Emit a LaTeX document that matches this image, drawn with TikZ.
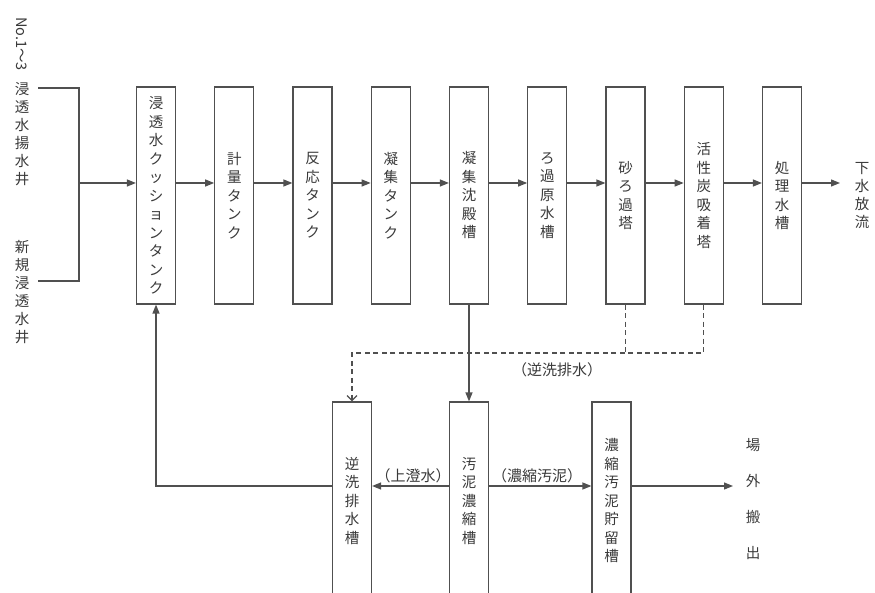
\documentclass[tikz,border=0pt]{standalone}
\usepackage{fontspec}
\setmainfont{Noto Sans CJK JP}
\usetikzlibrary{arrows.meta,calc}
\definecolor{ln}{HTML}{505050}
\definecolor{txt}{HTML}{3A3A3A}
\begin{document}
\begin{tikzpicture}[x=1pt,y=-1pt,
  tbox/.style={draw=ln, line width=1.2pt, minimum width=39pt, minimum height=217pt, inner sep=0pt,
    align=center, font=\fontsize{14.5}{18.5}\selectfont, text=txt},
  bbox/.style={draw=ln, line width=1.2pt, minimum width=39pt, minimum height=198pt, inner sep=0pt,
    align=center, font=\fontsize{14.5}{18.5}\selectfont, text=txt},
  vlab/.style={align=center, inner sep=0pt, font=\fontsize{14.5}{18}\selectfont, text=txt},
  hlab/.style={inner sep=1pt, font=\fontsize{15}{17}\selectfont, text=txt},
  flow/.style={draw=ln, line width=1.2pt, -{Triangle[length=9pt,width=7pt]}},
  pipe/.style={draw=ln, line width=1.2pt},
  dpipe/.style={draw=ln, line width=1.2pt, dash pattern=on 5pt off 3.5pt},
  darrow/.style={dpipe, -{Straight Barb[length=5pt,width=10pt,line width=1.2pt]}}
]
\clip (0,0) rectangle (875,593);
\fill[white] (0,0) rectangle (875,593);
% top row
\node[tbox] (b1) at (156,195.5) {浸\\透\\水\\ク\\ッ\\シ\\ョ\\ン\\タ\\ン\\ク};
\node[tbox] (b2) at (234.25,195.5) {計\\量\\タ\\ン\\ク};
\node[tbox] (b3) at (312.5,195.5) {反\\応\\タ\\ン\\ク};
\node[tbox] (b4) at (390.75,195.5) {凝\\集\\タ\\ン\\ク};
\node[tbox] (b5) at (469,195.5) {凝\\集\\沈\\殿\\槽};
\node[tbox] (b6) at (547.25,195.5) {ろ\\過\\原\\水\\槽};
\node[tbox] (b7) at (625.5,195.5) {砂\\ろ\\過\\塔};
\node[tbox] (b8) at (703.75,195.5) {活\\性\\炭\\吸\\着\\塔};
\node[tbox] (b9) at (782,195.5) {処\\理\\水\\槽};
% bottom row
\node[bbox] (bk) at (352,501) {逆\\洗\\排\\水\\槽};
\node[bbox] (bo) at (469,501) {汚\\泥\\濃\\縮\\槽};
\node[bbox] (bs) at (611.5,501) {濃\\縮\\汚\\泥\\貯\\留\\槽};
% labels
\node[vlab, rotate=-90] (lab1a) at (22,44) {No.1～3};
\node[vlab] (lab1) at (22,134) {浸\\透\\水\\揚\\水\\井};
\node[vlab] (lab2) at (22,292) {新\\規\\浸\\透\\水\\井};
\node[vlab] (out) at (862,196) {下\\水\\放\\流};
\node[vlab, font=\fontsize{14.5}{36}\selectfont] (jo) at (753,499) {場\\外\\搬\\出};
\node[hlab] (lbk) at (557,370) {（逆洗排水）};
\node[hlab] (lup) at (413,476) {（上澄水）};
\node[hlab] (lno) at (537,476) {（濃縮汚泥）};
% coordinates
\coordinate (row) at (0,183);
\coordinate (row2) at (0,486);
\coordinate (dl) at (0,353);
\coordinate (in1) at (38,88);
\coordinate (in2) at (38,281);
\coordinate (jt) at (79,88);
\coordinate (jb) at (79,281);
\coordinate (jm) at (79,183);
\coordinate (outend) at (840,183);
\coordinate (joend) at (733,486);
% input
\draw[pipe] (in1) -- (jt) -- (jb) -- (in2);
\draw[flow] (jm) -- (b1.west |- row);
% main flow
\draw[flow] (b1.east |- row) -- (b2.west |- row);
\draw[flow] (b2.east |- row) -- (b3.west |- row);
\draw[flow] (b3.east |- row) -- (b4.west |- row);
\draw[flow] (b4.east |- row) -- (b5.west |- row);
\draw[flow] (b5.east |- row) -- (b6.west |- row);
\draw[flow] (b6.east |- row) -- (b7.west |- row);
\draw[flow] (b7.east |- row) -- (b8.west |- row);
\draw[flow] (b8.east |- row) -- (b9.west |- row);
\draw[flow] (b9.east |- row) -- (outend);
% sludge
\draw[flow] (b5.south) -- (bo.north);
% backwash dashed
\draw[dpipe] (b7.south) -- (b7.south |- dl);
\draw[darrow] (b8.south) -- (b8.south |- dl) -- (bk.north |- dl) -- (bk.north);
% bottom flows
\draw[flow] (bo.west |- row2) -- (bk.east |- row2);
\draw[flow] (bo.east |- row2) -- (bs.west |- row2);
\draw[flow] (bs.east |- row2) -- (joend);
\draw[flow] (bk.west |- row2) -| (b1.south);
\end{tikzpicture}
\end{document}
